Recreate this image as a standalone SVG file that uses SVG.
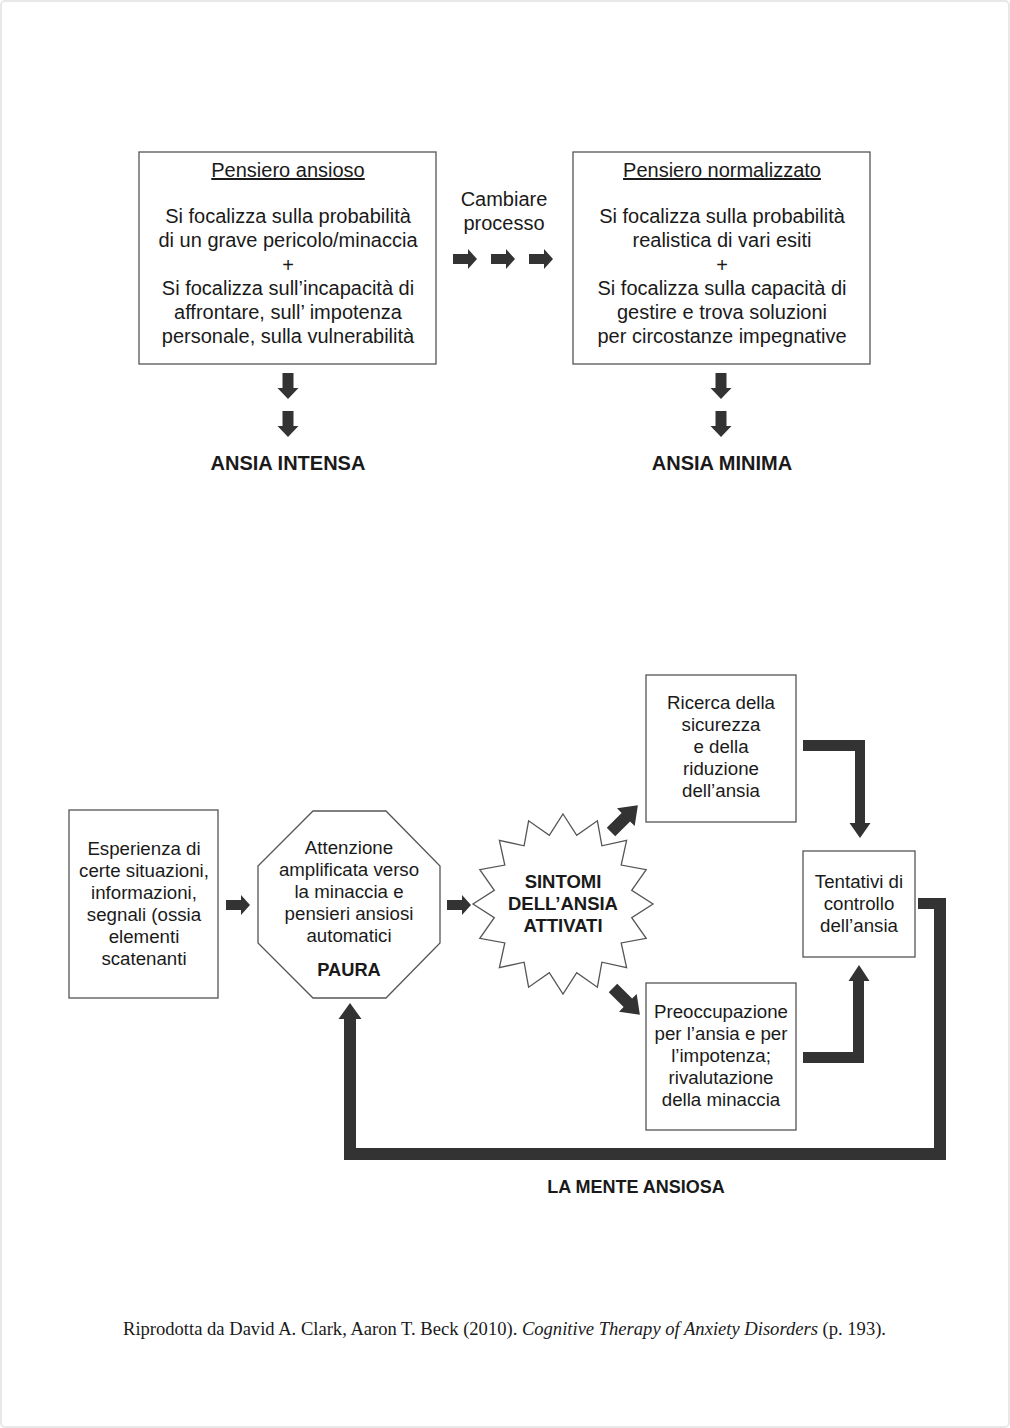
<svg xmlns="http://www.w3.org/2000/svg" xmlns:xlink="http://www.w3.org/1999/xlink" width="1010" height="1428" viewBox="0 0 1010 1428">
<style>
.box{fill:#fff;stroke:#555;stroke-width:1.3}
.t{font-family:"Liberation Sans",Arial,sans-serif;fill:#1a1a1a;text-anchor:middle}
.top{font-size:20px}
.bot{font-size:18.7px}
.b{font-weight:bold}
.arr{fill:#333}
.foot{font-family:"Liberation Serif","Times New Roman",serif;font-size:19px;fill:#1a1a1a}
</style>
<defs>
<path id="ra" d="M0,-5 H15 V-10 L24,0 L15,10 V5 H0 Z"/>
<path id="da" d="M-5.5,0 V15 H-10.5 L0,26 L10.5,15 H5.5 V0 Z"/>
<path id="dg" d="M0,-6 H21 V-12.5 L38,0 L21,12.5 V6 H0 Z"/>
</defs>
<rect x="1" y="1" width="1008" height="1426" rx="4" fill="#fff" stroke="#e8e8e8" stroke-width="2"/>

<g id="pensiero-ansioso">
<rect class="box" x="139" y="152" width="297" height="212"/>
<text class="t top" x="288" y="177" text-decoration="underline">Pensiero ansioso</text>
<text class="t top" x="288" y="223">Si focalizza sulla probabilità</text>
<text class="t top" x="288" y="247">di un grave pericolo/minaccia</text>
<text class="t top" x="288" y="272">+</text>
<text class="t top" x="288" y="295">Si focalizza sull’incapacità di</text>
<text class="t top" x="288" y="319">affrontare, sull’ impotenza</text>
<text class="t top" x="288" y="343">personale, sulla vulnerabilità</text>
</g>

<g id="pensiero-normalizzato">
<rect class="box" x="573" y="152" width="297" height="212"/>
<text class="t top" x="722" y="177" text-decoration="underline">Pensiero normalizzato</text>
<text class="t top" x="722" y="223">Si focalizza sulla probabilità</text>
<text class="t top" x="722" y="247">realistica di vari esiti</text>
<text class="t top" x="722" y="272">+</text>
<text class="t top" x="722" y="295">Si focalizza sulla capacità di</text>
<text class="t top" x="722" y="319">gestire e trova soluzioni</text>
<text class="t top" x="722" y="343">per circostanze impegnative</text>
</g>

<g id="cambiare-processo">
<text class="t top" x="504" y="206">Cambiare</text>
<text class="t top" x="504" y="230">processo</text>
</g>

<g id="ansia-intensa">
<text class="t b" x="288" y="470" style="font-size:20px">ANSIA INTENSA</text>
</g>
<g id="ansia-minima">
<text class="t b" x="722" y="470" style="font-size:20px">ANSIA MINIMA</text>
</g>

<g id="esperienza">
<rect class="box" x="69" y="810" width="149" height="188"/>
<text class="t bot" x="144" y="855">Esperienza di</text>
<text class="t bot" x="144" y="877">certe situazioni,</text>
<text class="t bot" x="144" y="899">informazioni,</text>
<text class="t bot" x="144" y="921">segnali (ossia</text>
<text class="t bot" x="144" y="943">elementi</text>
<text class="t bot" x="144" y="965">scatenanti</text>
</g>

<g id="attenzione">
<polygon class="box" points="313,811 386,811 440,866 440,943 386,998 313,998 258,943 258,866"/>
<text class="t bot" x="349" y="854">Attenzione</text>
<text class="t bot" x="349" y="876">amplificata verso</text>
<text class="t bot" x="349" y="898">la minaccia e</text>
<text class="t bot" x="349" y="920">pensieri ansiosi</text>
<text class="t bot" x="349" y="942">automatici</text>
<text class="t b" x="349" y="976" style="font-size:18.3px">PAURA</text>
</g>

<g id="sintomi">
<polygon class="box" points="563,814 576.7,835.3 597.4,820.8 601.9,845.8 626.6,840.4 621.2,865.1 646.2,869.6 631.7,890.3 653,904 631.7,917.7 646.2,938.4 621.2,942.9 626.6,967.6 601.9,962.2 597.4,987.2 576.7,972.7 563,994 549.3,972.7 528.6,987.2 524.1,962.2 499.4,967.6 504.8,942.9 479.8,938.4 494.3,917.7 473,904 494.3,890.3 479.8,869.6 504.8,865.1 499.4,840.4 524.1,845.8 528.6,820.8 549.3,835.3"/>
<text class="t b" x="563" y="888" style="font-size:18.5px">SINTOMI</text>
<text class="t b" x="563" y="910" style="font-size:18.5px">DELL’ANSIA</text>
<text class="t b" x="563" y="932" style="font-size:18.5px">ATTIVATI</text>
</g>

<g id="ricerca">
<rect class="box" x="646" y="675" width="150" height="147"/>
<text class="t bot" x="721" y="709">Ricerca della</text>
<text class="t bot" x="721" y="731">sicurezza</text>
<text class="t bot" x="721" y="753">e della</text>
<text class="t bot" x="721" y="775">riduzione</text>
<text class="t bot" x="721" y="797">dell’ansia</text>
</g>

<g id="preoccupazione">
<rect class="box" x="646" y="983" width="150" height="147"/>
<text class="t bot" x="721" y="1018">Preoccupazione</text>
<text class="t bot" x="721" y="1040">per l’ansia e per</text>
<text class="t bot" x="721" y="1062">l’impotenza;</text>
<text class="t bot" x="721" y="1084">rivalutazione</text>
<text class="t bot" x="721" y="1106">della minaccia</text>
</g>

<g id="tentativi">
<rect class="box" x="803" y="851" width="112" height="106"/>
<text class="t bot" x="859" y="888">Tentativi di</text>
<text class="t bot" x="859" y="910">controllo</text>
<text class="t bot" x="859" y="932">dell’ansia</text>
</g>

<g id="la-mente-ansiosa">
<text class="t b" x="636" y="1193" style="font-size:18px">LA MENTE ANSIOSA</text>
</g>

<g id="connectors" class="arr">
<use xlink:href="#ra" x="453" y="259"/>
<use xlink:href="#ra" x="491" y="259"/>
<use xlink:href="#ra" x="529" y="259"/>
<use xlink:href="#da" x="288" y="373"/>
<use xlink:href="#da" x="288" y="411"/>
<use xlink:href="#da" x="721" y="373"/>
<use xlink:href="#da" x="721" y="411"/>
<use xlink:href="#ra" x="226" y="905"/>
<use xlink:href="#ra" x="447" y="905"/>
<use xlink:href="#dg" transform="translate(611,832) rotate(-45)"/>
<use xlink:href="#dg" transform="translate(613,988) rotate(45)"/>
<path d="M803,740 H865 V823 H870.5 L860,838 L849.5,823 H855 V751 H803 Z"/>
<path d="M803,1063 H864 V981 H869.5 L859,965 L848.5,981 H853 V1052 H803 Z"/>
<path d="M918,898 H946 V1160 H344 V1019 H338.5 L350,1003 L361.5,1019 H356 V1148 H934 V909 H918 Z"/>
</g>

<g id="footer">
<text class="foot" x="504.5" y="1335" text-anchor="middle" textLength="763" lengthAdjust="spacingAndGlyphs">Riprodotta da David A. Clark, Aaron T. Beck (2010). <tspan font-style="italic">Cognitive Therapy of Anxiety Disorders</tspan> (p. 193).</text>
</g>
</svg>
